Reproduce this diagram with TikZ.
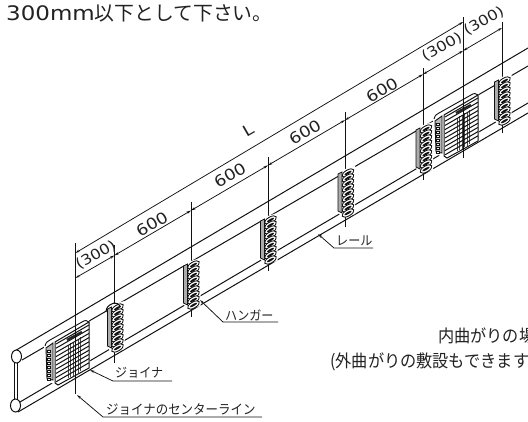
\documentclass[tikz,border=0pt]{standalone}
\usepackage{fontspec}
\setmainfont{Noto Sans CJK JP}
\newfontfamily\latinf[FakeStretch=1.15]{DejaVu Sans}
\newfontfamily\cjkc[FakeStretch=0.93]{Noto Sans CJK JP}
\usetikzlibrary{arrows.meta}
\definecolor{ink}{HTML}{111111}
\definecolor{txt}{HTML}{222222}
\tikzset{
  railline/.style={draw=ink,line width=1pt},
  extline/.style={draw=ink,line width=0.85pt},
  dimline/.style={draw=ink,line width=0.75pt,{Stealth[length=4.5pt,width=2.4pt]}-{Stealth[length=4.5pt,width=2.4pt]}},
  leaderline/.style={draw=ink,line width=0.75pt,-{Stealth[length=4.5pt,width=2.4pt]}},
  dimtext/.style={font=\latinf\fontsize{15.5}{16}\selectfont,text=txt,rotate=30,inner sep=0pt},
  dimtextp/.style={font=\latinf\fontsize{14.2}{15}\selectfont,text=txt,rotate=30,inner sep=0pt},
  labeltext/.style={font=\cjkc\fontsize{13}{14}\selectfont,text=txt,inner sep=0pt,anchor=west},
  bigtext/.style={font=\cjkc\fontsize{17.4}{18}\selectfont,text=txt,inner sep=0pt,anchor=west},
  pics/hangerunit/.style={code={
    \fill[white] (-9,2) -- (-5,0) -- (8,-4) -- (8,44) -- (-5,48) -- (-9,42) -- cycle;
    \filldraw[fill=gray!65,draw=ink,line width=0.8pt] (-9,4) -- (-5,2) -- (-5,43) -- (-9,41) -- cycle;
    \foreach \k in {0,...,8}{
      \draw[ink,fill=white,line width=0.85pt,shift={(1,3+5*\k)},rotate=30] (0,0) ellipse [x radius=6.6,y radius=3];
      \fill[ink,shift={(1,3+5*\k)},rotate=30] (0,0) ellipse [x radius=4.2,y radius=1.1];
    }
  }},
  pics/joinerunit/.style={code={
    \fill[white] (-45,22) -- (-1,-3) -- (1,0) -- (1,46) -- (-31,64) -- (-44,58) -- cycle;
    \draw[ink,line width=0.9pt] (-44,24) .. controls (-43,20) and (-41,19) .. (-39,18) -- (-7,0) .. controls (-4,-2) and (-2,-2) .. (0,0);
    \filldraw[fill=gray!55,draw=ink,line width=0.9pt] (-43,26) -- (-36,21) -- (-36,58) -- (-42,57) -- cycle;
    \foreach \k in {0,...,7}{\filldraw[fill=white,draw=ink,line width=0.5pt] (-41.5,28+4*\k) rectangle (-38.5,30.5+4*\k);}
    \filldraw[fill=white,draw=ink,line width=1pt] (-34,20) -- (0,0) -- (0,46) -- (-31,63) -- (-34,61) -- cycle;
    \foreach \v in {-21,-18.5,...,-7}{\draw[gray!60!black,line width=0.45pt] (\v,{14+(-\v-6)*0.59}) -- (\v,{48+(-\v-6)*0.55});}
    \foreach \k in {0,...,9}{\draw[ink,line width=1pt] (-33,{22+4.2*\k}) -- (0,{3+4.2*\k});}
    \draw[gray!30!black,line width=2.4pt] (-22,18) -- (-7,10);
  }}
}
\begin{document}
\begin{tikzpicture}[x=1pt,y=-1pt]
\useasboundingbox (0,0) rectangle (528,421);
\clip (0,0) rectangle (528,421);
% rail end points
\coordinate (tu0) at (13,352); \coordinate (tu1) at (528,48);
\coordinate (tl0) at (22,360); \coordinate (tl1) at (528,66);
\coordinate (bu0) at (20,402); \coordinate (bu1) at (528,103);
\coordinate (bl0) at (18,412); \coordinate (bl1) at (528,113);
\draw[railline] (tu0) -- (tu1);
\draw[railline] (tl0) -- (tl1);
\draw[railline] (bu0) -- (bu1);
\draw[railline] (bl0) -- (bl1);
% rail ends
\draw[railline,fill=white] (16.5,356.5) ellipse [x radius=5,y radius=6.5];
\draw[railline,fill=white] (15.5,405.5) ellipse [x radius=5,y radius=6.5];
\draw[railline] (14.3,363) -- (14.3,399);
\draw[railline] (17,363) -- (17,399);
% extension lines
\foreach \n/\x/\a/\b in {a/114.5/245/363,b/191/202/317,c/268/157/271,d/345/112/227,e/423/68/180,g/502/22/133}{
  \coordinate (ext\n t) at (\x,\a);
  \coordinate (ext\n b) at (\x,\b);
  \draw[extline] (ext\n t) -- (ext\n b);
}
% hangers
\pic at (116.5,305) {hangerunit};
\draw[railline] (106,312) .. controls (106,308) and (108,305) .. (114,303) .. controls (117,303) and (119,304) .. (120,306);
\pic at (192.5,262) {hangerunit};
\pic at (269.5,217) {hangerunit};
\pic at (347,170) {hangerunit};
\pic at (425,126) {hangerunit};
\pic at (503.5,78) {hangerunit};
% joiners
\pic at (89,322) {joinerunit};
\pic at (478,95) {joinerunit};
% centre lines
\coordinate (clat) at (75.3,243); \coordinate (clab) at (75.3,394);
\coordinate (clbt) at (463,17); \coordinate (clbb) at (463,158);
\draw[extline] (clat) -- (clab);
\draw[extline] (clbt) -- (clbb);
% dimension lines
\coordinate (dl0) at (75.3,253); \coordinate (dl1) at (463,22);
\draw[dimline] (dl0) -- (dl1);
\coordinate (d0) at (75.3,278);
\coordinate (d1) at (114.5,255.4);
\coordinate (d2) at (191,210.5);
\coordinate (d3) at (268,165.3);
\coordinate (d4) at (345,120.1);
\coordinate (d5) at (423,74.3);
\coordinate (d6) at (463,50.8);
\coordinate (d7) at (502,27.9);
\foreach \p/\q in {d0/d1,d1/d2,d2/d3,d3/d4,d4/d5,d5/d6,d6/d7}{\draw[dimline] (\p) -- (\q);}
\node[dimtext] (tL) at (248,130) {L};
\node[dimtextp] (t300a) at (96,255) {(300)};
\node[dimtext] (t600a) at (152,224) {600};
\node[dimtext] (t600b) at (230,175) {600};
\node[dimtext] (t600c) at (305,132) {600};
\node[dimtext] (t600d) at (382,90) {600};
\node[dimtextp] (t300b) at (442,47) {(300)};
\node[dimtextp] (t300c) at (484,21) {(300)};
% leaders
\coordinate (ljt) at (90,370); \coordinate (lje) at (113,381); \coordinate (ljf) at (172,381);
\coordinate (lht) at (200,300); \coordinate (lhe) at (223,322); \coordinate (lhf) at (278,322);
\coordinate (lct) at (77,395); \coordinate (lce) at (103,417); \coordinate (lcf) at (262,417);
\coordinate (lrt) at (318,234); \coordinate (lre) at (334,248); \coordinate (lrf) at (373,248);
\draw[leaderline] (ljf) -- (lje) -- (ljt);
\draw[leaderline] (lhf) -- (lhe) -- (lht);
\draw[leaderline] (lcf) -- (lce) -- (lct);
\draw[leaderline] (lrf) -- (lre) -- (lrt);
\node[labeltext] (tj) at (115,373) {ジョイナ};
\node[labeltext] (th) at (225,315) {ハンガー};
\node[labeltext,font=\cjkc\fontsize{13.4}{14}\selectfont] (tc) at (106,409) {ジョイナのセンターライン};
\node[labeltext] (tr) at (336,241) {レール};
% texts
\node[font=\fontsize{19.8}{20}\selectfont,text=txt,inner sep=0pt,anchor=west] (ttop) at (6,13.5) {{\latinf\fontsize{20}{20}\selectfont 300mm}以下として下さい。};
\node[bigtext] (tin) at (438,336) {内曲がりの場};
\node[bigtext] (tout) at (330,362) {(外曲がりの敷設もできます};
\end{tikzpicture}
\end{document}
